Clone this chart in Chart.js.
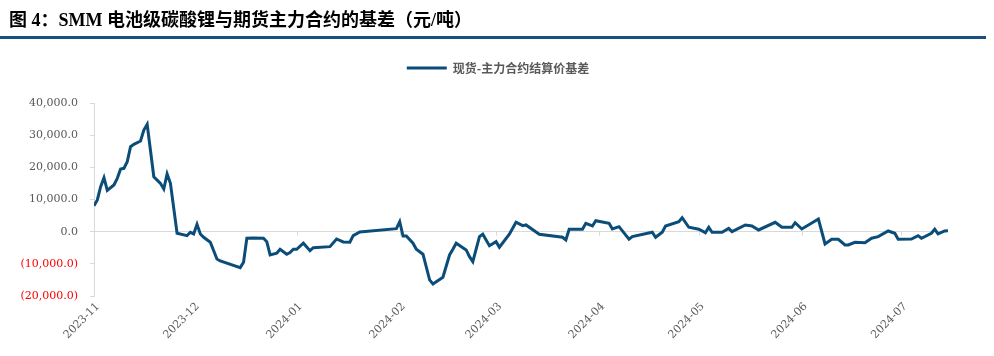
<!DOCTYPE html>
<html>
<head>
<meta charset="utf-8">
<script src="https://cdn.jsdelivr.net/npm/chart.js@4.4.1/dist/chart.umd.min.js"></script>
<style>
  body { margin: 0; background: #fff; }
  #wrap { position: relative; width: 994px; height: 356px; overflow: hidden; }
  #title { position: absolute; left: 9px; top: 5px; font: bold 18px "Liberation Serif", "Noto Sans CJK SC"; color: #000; white-space: nowrap; }
  #rule { position: absolute; left: 0; top: 36px; width: 986px; height: 3px; background: #1A5080; }
  canvas { position: absolute; left: 0; top: 0; }
</style>
</head>
<body>
<div id="wrap">
  <canvas id="basisChart" width="994" height="356"></canvas>
  <div id="title">图 4：SMM 电池级碳酸锂与期货主力合约的基差（元/吨）</div>
  <div id="rule"></div>
</div>
<script>
// data (turning points of the line)
const dates = [
  '2023-11-01','2023-11-02','2023-11-03','2023-11-04','2023-11-05','2023-11-07','2023-11-08','2023-11-09','2023-11-10','2023-11-11',
  '2023-11-12','2023-11-13','2023-11-15','2023-11-16','2023-11-17','2023-11-19','2023-11-21','2023-11-22','2023-11-23','2023-11-24',
  '2023-11-26','2023-11-29','2023-11-30',
  '2023-12-01','2023-12-02','2023-12-03','2023-12-04','2023-12-06','2023-12-08','2023-12-09','2023-12-15','2023-12-16','2023-12-17',
  '2023-12-19','2023-12-22','2023-12-23','2023-12-24','2023-12-26','2023-12-27','2023-12-29','2023-12-30','2023-12-31',
  '2024-01-01','2024-01-03','2024-01-05','2024-01-06','2024-01-11','2024-01-13','2024-01-15','2024-01-17','2024-01-18','2024-01-20','2024-01-31',
  '2024-02-01','2024-02-02','2024-02-03','2024-02-05','2024-02-06','2024-02-08','2024-02-10','2024-02-11','2024-02-14','2024-02-16',
  '2024-02-17','2024-02-18','2024-02-21','2024-02-22','2024-02-23','2024-02-25','2024-02-26','2024-02-28',
  '2024-03-01','2024-03-02','2024-03-05','2024-03-07','2024-03-09','2024-03-10','2024-03-14','2024-03-21','2024-03-22','2024-03-23',
  '2024-03-27','2024-03-28','2024-03-30','2024-03-31',
  '2024-04-04','2024-04-05','2024-04-07','2024-04-10','2024-04-11','2024-04-17','2024-04-18','2024-04-20','2024-04-21','2024-04-25',
  '2024-04-26','2024-04-28',
  '2024-05-01','2024-05-03','2024-05-04','2024-05-05','2024-05-08','2024-05-10','2024-05-11','2024-05-15','2024-05-17','2024-05-19',
  '2024-05-24','2024-05-26','2024-05-29','2024-05-30',
  '2024-06-01','2024-06-06','2024-06-08','2024-06-10','2024-06-12','2024-06-14','2024-06-15','2024-06-17','2024-06-20','2024-06-22',
  '2024-06-24','2024-06-27','2024-06-29','2024-06-30',
  '2024-07-04','2024-07-06','2024-07-07','2024-07-10','2024-07-11','2024-07-12','2024-07-14','2024-07-15'
];
const basis = [
  8080, 9850, 14000, 16770, 12860, 14500, 16590, 19470, 19690, 21740,
  26400, 27150, 28170, 31590, 33350, 17080, 15030, 13260, 17920, 15030,
  -500, -1240, -200,
  -710, 2300, -710, -1740, -3300, -8480, -9100, -11180, -9500, -2050,
  -1960, -2050, -3100, -7240, -6700, -5470, -7020, -6500, -5470,
  -5470, -3600, -5900, -4970, -4660, -2270, -3200, -3300, -1240, -90, 930,
  3100, -1340, -1340, -3600, -5470, -7020, -15000, -16240, -14170, -7240,
  -5470, -3600, -5680, -7760, -9300, -1550, -810, -4350,
  -3100, -4850, -800, 2920, 1860, 2080, -810, -1740, -2580, 750,
  750, 2610, 1770, 3420,
  2610, 840, 1550, -2360, -1550, -190, -1740, -190, 1770, 3100,
  4350, 1370,
  750, -310, 1370, -190, -190, 1000, 0, 2080, 1770, 530,
  2920, 1370, 1370, 2800,
  840, 3940, -3820, -2360, -2360, -4130, -4130, -3300, -3420, -2050,
  -1550, 220, -500, -2360,
  -2270, -1240, -2050, -500, 750, -710, 220, 310
];
const monthLabels = ['2023-11','2023-12','2024-01','2024-02','2024-03','2024-04','2024-05','2024-06','2024-07'];
const yTicks = [-20000, -10000, 0, 10000, 20000, 30000, 40000];
const seriesName = '现货-主力合约结算价基差';

const DAY = 86400000;
const t0 = Date.UTC(2023, 10, 1);
function dayIndex(s) {
  const p = s.split('-').map(Number);
  return (Date.UTC(p[0], p[1] - 1, p[2] || 1) - t0) / DAY;
}
const monthTicks = monthLabels.map(dayIndex);
const labelAt = {};
monthLabels.forEach((m, i) => { labelAt[monthTicks[i]] = m; });

function fmt(v) {
  const s = Math.abs(v).toLocaleString('en-US', { minimumFractionDigits: 1, maximumFractionDigits: 1 });
  return v < 0 ? '(' + s + ')' : s;
}

// small tick marks hanging under the zero line at each month
const zeroTicks = {
  id: 'zeroTicks',
  beforeDatasetsDraw(chart) {
    const { ctx, scales: { x, y } } = chart;
    const y0 = y.getPixelForValue(0);
    ctx.save();
    ctx.strokeStyle = '#D9D9D9';
    ctx.lineWidth = 1;
    ctx.beginPath();
    monthTicks.forEach(v => {
      const px = Math.round(x.getPixelForValue(v)) + 0.5;
      ctx.moveTo(px, y0);
      ctx.lineTo(px, y0 + 4);
    });
    ctx.stroke();
    ctx.restore();
  }
};

// legend: extra room under it, and centred over the plot like the original
const legendPlace = {
  id: 'legendPlace',
  afterInit(chart) {
    const lg = chart.legend;
    if (!lg) return;
    const fit = lg.fit;
    lg.fit = function () { fit.call(this); this.height += 19; };
  },
  afterLayout(chart) {
    if (chart.legend) chart.legend.left += 48;
  }
};

new Chart(document.getElementById('basisChart'), {
  type: 'line',
  data: {
    datasets: [{
      label: seriesName,
      data: dates.map((d, i) => ({ x: dayIndex(d), y: basis[i] })),
      borderColor: '#0B4D79',
      backgroundColor: '#0B4D79',
      borderWidth: 3,
      pointRadius: 0,
      tension: 0,
      fill: false
    }]
  },
  options: {
    responsive: false,
    animation: false,
    layout: { padding: { top: 43, left: 0, right: 46, bottom: 0 } },
    plugins: {
      tooltip: { enabled: false },
      legend: {
        position: 'top',
        labels: {
          usePointStyle: true,
          pointStyle: 'line',
          pointStyleWidth: 40,
          padding: 19,
          color: '#595959',
          font: { family: 'Noto Sans CJK SC', size: 12, weight: 'bold' }
        }
      }
    },
    scales: {
      x: {
        type: 'linear',
        min: 0,
        max: dayIndex(dates[dates.length - 1]),
        afterBuildTicks: s => { s.ticks = monthTicks.map(v => ({ value: v })); },
        afterFit: s => { s.height = 60; },
        grid: { display: false, drawTicks: false },
        border: { display: false },
        ticks: {
          autoSkip: false,
          minRotation: 45,
          maxRotation: 45,
          padding: 4,
          labelOffset: 4,
          color: '#595959',
          font: { family: 'DejaVu Serif', size: 11 },
          callback: v => labelAt[v]
        }
      },
      y: {
        min: yTicks[0],
        max: yTicks[yTicks.length - 1],
        afterBuildTicks: s => { s.ticks = yTicks.map(v => ({ value: v })); },
        afterFit: s => { s.width = 94; },
        grid: {
          color: c => c.tick && c.tick.value === 0 ? '#D9D9D9' : 'rgba(0,0,0,0)',
          tickColor: '#D9D9D9',
          tickLength: 4,
          lineWidth: 1
        },
        border: { color: '#D9D9D9' },
        ticks: {
          padding: 12,
          color: c => c.tick.value < 0 ? '#FF0000' : '#595959',
          font: { family: 'DejaVu Serif', size: 11 },
          callback: v => fmt(v)
        }
      }
    }
  },
  plugins: [zeroTicks, legendPlace]
});
</script>
</body>
</html>
